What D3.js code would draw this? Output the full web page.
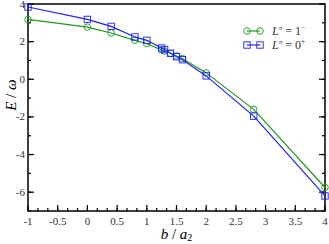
<!DOCTYPE html>
<html>
<head>
<meta charset="utf-8">
<script src="https://cdn.jsdelivr.net/npm/d3@7"></script>
<style>
  html, body { margin: 0; padding: 0; background: #fff; }
  #chart { width: 329px; height: 244px; }
  svg text { font-family: 'Liberation Serif'; }
</style>
</head>
<body>
<div id="chart"></div>
<script>
'use strict';

const B_VALUES = [-1, 0, 0.4, 0.8, 1.0, 1.25, 1.3, 1.4, 1.5, 1.6, 2.0, 2.8, 4.0];
const E_1MINUS = [3.18, 2.77, 2.46, 2.07, 1.89, 1.56, 1.5, 1.38, 1.24, 1.1, 0.34, -1.6, -5.75];
const E_0PLUS  = [3.84, 3.18, 2.81, 2.25, 2.07, 1.66, 1.58, 1.38, 1.2, 1.04, 0.18, -1.96, -6.2];
const X_TICKS = [-1, -0.5, 0, 0.5, 1, 1.5, 2, 2.5, 3, 3.5, 4];
const Y_TICKS = [-6, -4, -2, 0, 2, 4];

const SERIES = [
  { name: '1', parity: '−', values: E_1MINUS, color: '#1e9a1e', marker: 'circle' },
  { name: '0', parity: '+', values: E_0PLUS,  color: '#1f1fff', marker: 'square' },
];

const W = 329, H = 244;
const MARGIN = { top: 4, right: 4, bottom: 33, left: 28 };
const w = W - MARGIN.left - MARGIN.right;
const h = H - MARGIN.top - MARGIN.bottom;

const svg = d3.select('#chart').append('svg')
  .attr('width', W).attr('height', H);
const g = svg.append('g').attr('transform', `translate(${MARGIN.left},${MARGIN.top})`);

const x = d3.scaleLinear().domain([-1, 4]).range([0, w]);
const y = d3.scaleLinear().domain([-7, 4]).range([h, 0]);

// minor ticks
const xMinor = d3.range(-1, 4.001, 0.5 / 3);
const yMinor = d3.range(-7, 4.001, 1);

// frame
g.append('rect').attr('width', w).attr('height', h)
  .attr('fill', 'none').attr('stroke', '#000').attr('stroke-width', 1.5);

// bottom ticks (inward)
g.selectAll('.xmin').data(xMinor).join('line')
  .attr('x1', d => x(d)).attr('x2', d => x(d))
  .attr('y1', h).attr('y2', h - 3)
  .attr('stroke', '#000').attr('stroke-width', 1.2);
g.selectAll('.xmaj').data(X_TICKS).join('line')
  .attr('x1', d => x(d)).attr('x2', d => x(d))
  .attr('y1', h).attr('y2', h - 6)
  .attr('stroke', '#000').attr('stroke-width', 1.2);
g.selectAll('.xlab').data(X_TICKS).join('text')
  .attr('x', d => x(d)).attr('y', h + 14)
  .attr('text-anchor', 'middle').attr('font-size', '11px').attr('fill', '#333')
  .text(d => String(d));

// left + right ticks (inward)
[0, w].forEach(side => {
  const dir = side === 0 ? 1 : -1;
  g.selectAll(null).data(yMinor).join('line')
    .attr('x1', side).attr('x2', side + dir * 3)
    .attr('y1', d => y(d)).attr('y2', d => y(d))
    .attr('stroke', '#000').attr('stroke-width', 1.2);
  g.selectAll(null).data(Y_TICKS).join('line')
    .attr('x1', side).attr('x2', side + dir * 6)
    .attr('y1', d => y(d)).attr('y2', d => y(d))
    .attr('stroke', '#000').attr('stroke-width', 1.2);
});
g.selectAll('.ylab').data(Y_TICKS).join('text')
  .attr('x', -3).attr('y', d => y(d) + 3.5)
  .attr('text-anchor', 'end').attr('font-size', '11px').attr('fill', '#333')
  .text(d => d);

// axis titles
g.append('text')
  .attr('x', w / 2).attr('y', h + 28)
  .attr('text-anchor', 'middle').attr('font-size', '15px').attr('font-style', 'italic')
  .html('b<tspan font-style="normal"> / </tspan>a<tspan font-size="10px" font-style="normal" dy="2">2</tspan>');
g.append('text')
  .attr('transform', `translate(-12,${h * 0.44}) rotate(-90)`)
  .attr('text-anchor', 'middle').attr('font-size', '15px').attr('font-style', 'italic')
  .html('E<tspan font-style="normal"> / </tspan>ω');

// series
const line = d3.line().x((d, i) => x(B_VALUES[i])).y(d => y(d));

function drawMarker(sel, s, cx, cy) {
  if (s.marker === 'circle') {
    sel.append('circle').attr('cx', cx).attr('cy', cy).attr('r', 3.3)
      .attr('fill', 'none').attr('stroke', s.color).attr('stroke-width', 0.9);
  } else {
    sel.append('rect').attr('x', cx - 3.2).attr('y', cy - 3.2).attr('width', 6.4).attr('height', 6.4)
      .attr('fill', 'none').attr('stroke', s.color).attr('stroke-width', 0.9);
  }
}

SERIES.forEach(s => {
  g.append('path').datum(s.values).attr('d', line)
    .attr('fill', 'none').attr('stroke', s.color).attr('stroke-width', 1.2);
  const mg = g.append('g');
  s.values.forEach((v, i) => drawMarker(mg, s, x(B_VALUES[i]), y(v)));
});

// legend
const legend = svg.append('g').attr('transform', 'translate(247,31)');
SERIES.forEach((s, i) => {
  const row = legend.append('g').attr('transform', `translate(0,${i * 14})`);
  row.append('line').attr('x1', 0).attr('x2', 13).attr('y1', 0).attr('y2', 0)
    .attr('stroke', s.color).attr('stroke-width', 1.2);
  drawMarker(row, s, 0, 0);
  drawMarker(row, s, 13, 0);
  row.append('text').attr('x', 25).attr('y', 4).attr('font-size', '12px').attr('fill', '#333')
    .html(`<tspan font-style="italic">L</tspan><tspan font-size="7px" font-style="italic" dy="-5">π</tspan><tspan dy="5"> = ${s.name}</tspan><tspan font-size="7.5px" dy="-5">${s.parity}</tspan>`);
});
</script>
</body>
</html>
